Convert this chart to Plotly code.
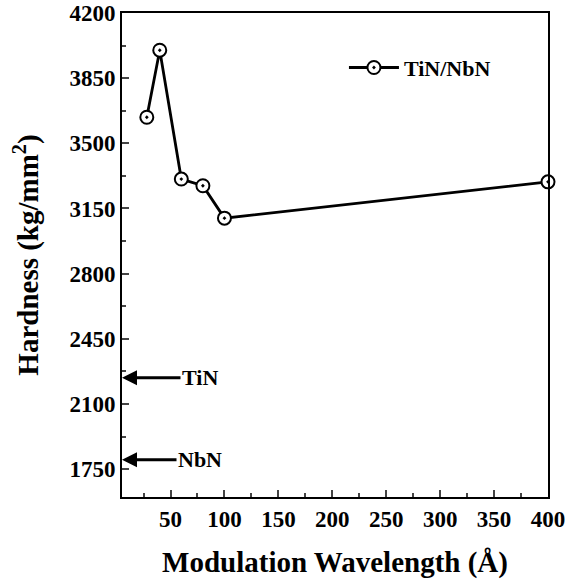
import plotly.graph_objects as go

wavelength = [28, 40, 60, 80, 100, 400]
hardness = [3640, 4000, 3308, 3272, 3098, 3293]
ref_names = ["TiN", "NbN"]
ref_hardness = [2240, 1800]
x_ticks = [50, 100, 150, 200, 250, 300, 350, 400]
y_ticks = [1750, 2100, 2450, 2800, 3150, 3500, 3850, 4200]

FONT = "Liberation Serif"

fig = go.Figure()
fig.add_trace(go.Scatter(
    x=wavelength, y=hardness, mode="lines+markers", name="TiN/NbN",
    line=dict(color="black", width=2.8),
    marker=dict(symbol="circle-dot", size=13, color="white",
                line=dict(color="black", width=2)),
    cliponaxis=False,
))

for name, h in zip(ref_names, ref_hardness):
    fig.add_annotation(x=5, y=h, ax=78, ay=0, axref="pixel", ayref="pixel",
                       text=name, showarrow=True, arrowhead=2, arrowsize=1,
                       arrowwidth=3, arrowcolor="black", standoff=0, startstandoff=0,
                       font=dict(family=FONT, size=22, color="black", weight="bold"))

fig.update_layout(
    width=567, height=579,
    margin=dict(l=122, r=19, t=13, b=82),
    paper_bgcolor="white", plot_bgcolor="white",
    font=dict(family=FONT, color="black"),
    showlegend=True,
    legend=dict(x=0.521, y=0.887, xanchor="left", yanchor="middle",
                bgcolor="rgba(0,0,0,0)", itemwidth=50,
                font=dict(family=FONT, size=22, weight="bold")),
)
fig.update_xaxes(
    range=[5, 400], tickvals=x_ticks, ticks="inside", ticklen=7, tickwidth=1.5,
    minor=dict(tickvals=[25 + 50 * i for i in range(8)], ticks="inside", ticklen=4, tickwidth=1.5),
    showline=True, linecolor="black", linewidth=2, mirror=True, showgrid=False, zeroline=False,
    automargin=False,
    tickfont=dict(family=FONT, size=23, weight="bold"),
    title=dict(text="Modulation Wavelength (Å)", font=dict(family=FONT, size=29, weight="bold"), standoff=26),
)
fig.update_yaxes(
    range=[1600, 4200], tickvals=y_ticks,
    ticks="inside", ticklen=7, tickwidth=1.5,
    minor=dict(tickvals=[1925 + 350 * i for i in range(7)], ticks="inside", ticklen=4, tickwidth=1.5),
    showline=True, linecolor="black", linewidth=2, mirror=True, showgrid=False, zeroline=False,
    automargin=False,
    tickfont=dict(family=FONT, size=23, weight="bold"),
    title=dict(text="Hardness (kg/mm<sup>2</sup>)", font=dict(family=FONT, size=29, weight="bold"), standoff=22),
)

fig.write_html("out.html")
